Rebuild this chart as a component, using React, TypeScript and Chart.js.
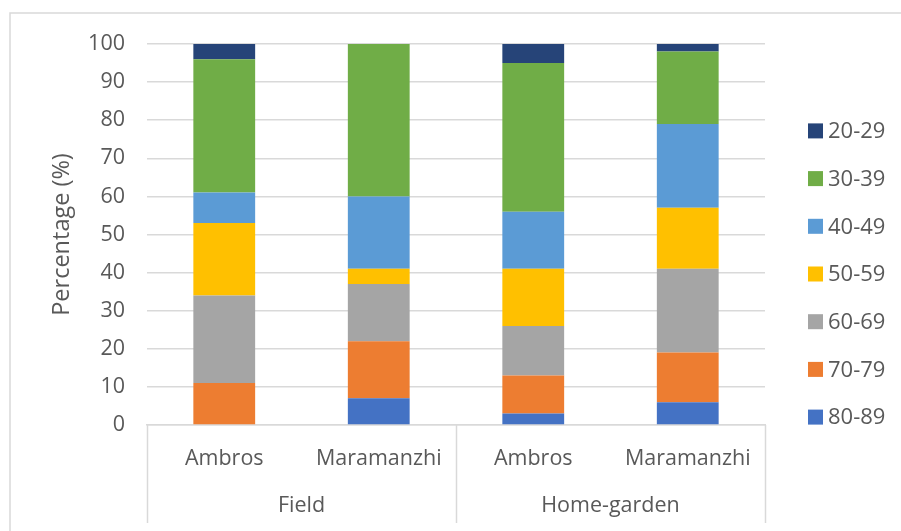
import React, { useEffect, useRef } from "react";
import { Chart, registerables } from "chart.js";

Chart.register(...registerables);

const categories = ["Ambros", "Maramanzhi", "Ambros", "Maramanzhi"];
const groups = ["Field", "Home-garden"];
const ageGroups = ["80-89", "70-79", "60-69", "50-59", "40-49", "30-39", "20-29"];
const s80_89 = [0, 7, 3, 6];
const s70_79 = [11, 15, 10, 13];
const s60_69 = [23, 15, 13, 22];
const s50_59 = [19, 4, 15, 16];
const s40_49 = [8, 19, 15, 22];
const s30_39 = [35, 40, 39, 19];
const s20_29 = [4, 0, 5, 2];
const colors = ["#4472C4", "#ED7D31", "#A5A5A5", "#FFC000", "#5B9BD5", "#70AD47", "#264478"];
const yTitle = "Percentage (%)";

const FONT = "'Open Sans', sans-serif";
const TEXT = "#595959";
const GRID = "#d9d9d9";

const framePlugin = {
  id: "frame",
  beforeDraw(chart: any) {
    const ctx = chart.ctx;
    ctx.save();
    ctx.fillStyle = "#ffffff";
    ctx.fillRect(0, 0, chart.width, chart.height);
    ctx.strokeStyle = GRID;
    ctx.lineWidth = 1.5;
    ctx.strokeRect(10, 13, 1000, 1000);
    ctx.restore();
  },
};

const groupPlugin = {
  id: "groups",
  afterDraw(chart: any) {
    const ctx = chart.ctx;
    const x = chart.scales.x;
    const n = categories.length;
    const per = n / groups.length;
    const bounds: number[] = [x.left];
    for (let g = 1; g < groups.length; g++) {
      bounds.push((x.getPixelForValue(g * per - 1) + x.getPixelForValue(g * per)) / 2);
    }
    bounds.push(x.right);
    ctx.save();
    ctx.strokeStyle = GRID;
    ctx.lineWidth = 1.5;
    bounds.forEach((b) => {
      ctx.beginPath();
      ctx.moveTo(Math.round(b) + 0.5, x.top);
      ctx.lineTo(Math.round(b) + 0.5, x.top + 98);
      ctx.stroke();
    });
    ctx.fillStyle = TEXT;
    ctx.font = `21.5px ${FONT}`;
    ctx.textAlign = "center";
    ctx.textBaseline = "middle";
    groups.forEach((g, i) => {
      ctx.fillText(g, (bounds[i] + bounds[i + 1]) / 2, x.top + 81);
    });
    ctx.restore();
  },
};

const legendPlugin = {
  id: "customLegend",
  afterDraw(chart: any) {
    const ctx = chart.ctx;
    const ds = chart.data.datasets.slice().reverse();
    const spacing = 47.7;
    const center = 274;
    const n = ds.length;
    ctx.save();
    ctx.font = `22px ${FONT}`;
    ctx.textBaseline = "middle";
    ctx.textAlign = "left";
    ds.forEach((d: any, i: number) => {
      const y = center + (i - (n - 1) / 2) * spacing;
      ctx.fillStyle = d.backgroundColor;
      ctx.fillRect(808, y - 7.5, 15, 15);
      ctx.fillStyle = TEXT;
      ctx.fillText(d.label, 828, y + 1);
    });
    ctx.restore();
  },
};

export default function App() {
  const ref = useRef<HTMLCanvasElement>(null);
  useEffect(() => {
    if (!ref.current) return;
    const series = [s80_89, s70_79, s60_69, s50_59, s40_49, s30_39, s20_29];
    const chart = new Chart(ref.current, {
      type: "bar",
      data: {
        labels: categories,
        datasets: ageGroups.map((label, i) => ({
          label,
          data: series[i],
          backgroundColor: colors[i],
          borderWidth: 0,
          barPercentage: 0.4,
          categoryPercentage: 1,
        })),
      },
      options: {
        animation: false,
        responsive: false,
        layout: { padding: { left: 38, right: 136, top: 44, bottom: 0 } },
        plugins: { legend: { display: false }, tooltip: { enabled: false } },
        scales: {
          x: {
            stacked: true,
            grid: { display: false, drawTicks: false },
            border: { display: true, color: GRID, width: 1.5 },
            ticks: { color: TEXT, font: { family: FONT, size: 21.5 }, padding: 21, maxRotation: 0 },
            afterFit(scale: any) {
              scale.height = 106;
            },
          },
          y: {
            stacked: true,
            min: 0,
            max: 100,
            ticks: { stepSize: 10, color: TEXT, font: { family: FONT, size: 21.5 }, padding: 22 },
            grid: { color: GRID, lineWidth: 1.5, drawTicks: false },
            border: { display: false },
            title: {
              display: true,
              text: yTitle,
              color: TEXT,
              font: { family: FONT, size: 23.5 },
              padding: { top: 10, bottom: 0 },
            },
            afterFit(scale: any) {
              scale.width = 109;
            },
          },
        },
      },
      plugins: [framePlugin, groupPlugin, legendPlugin],
    });
    return () => chart.destroy();
  }, []);
  return (
    <div style={{ position: "absolute", left: 0, top: 0, width: 901, height: 531 }}>
      <canvas ref={ref} width={901} height={531} />
    </div>
  );
}
